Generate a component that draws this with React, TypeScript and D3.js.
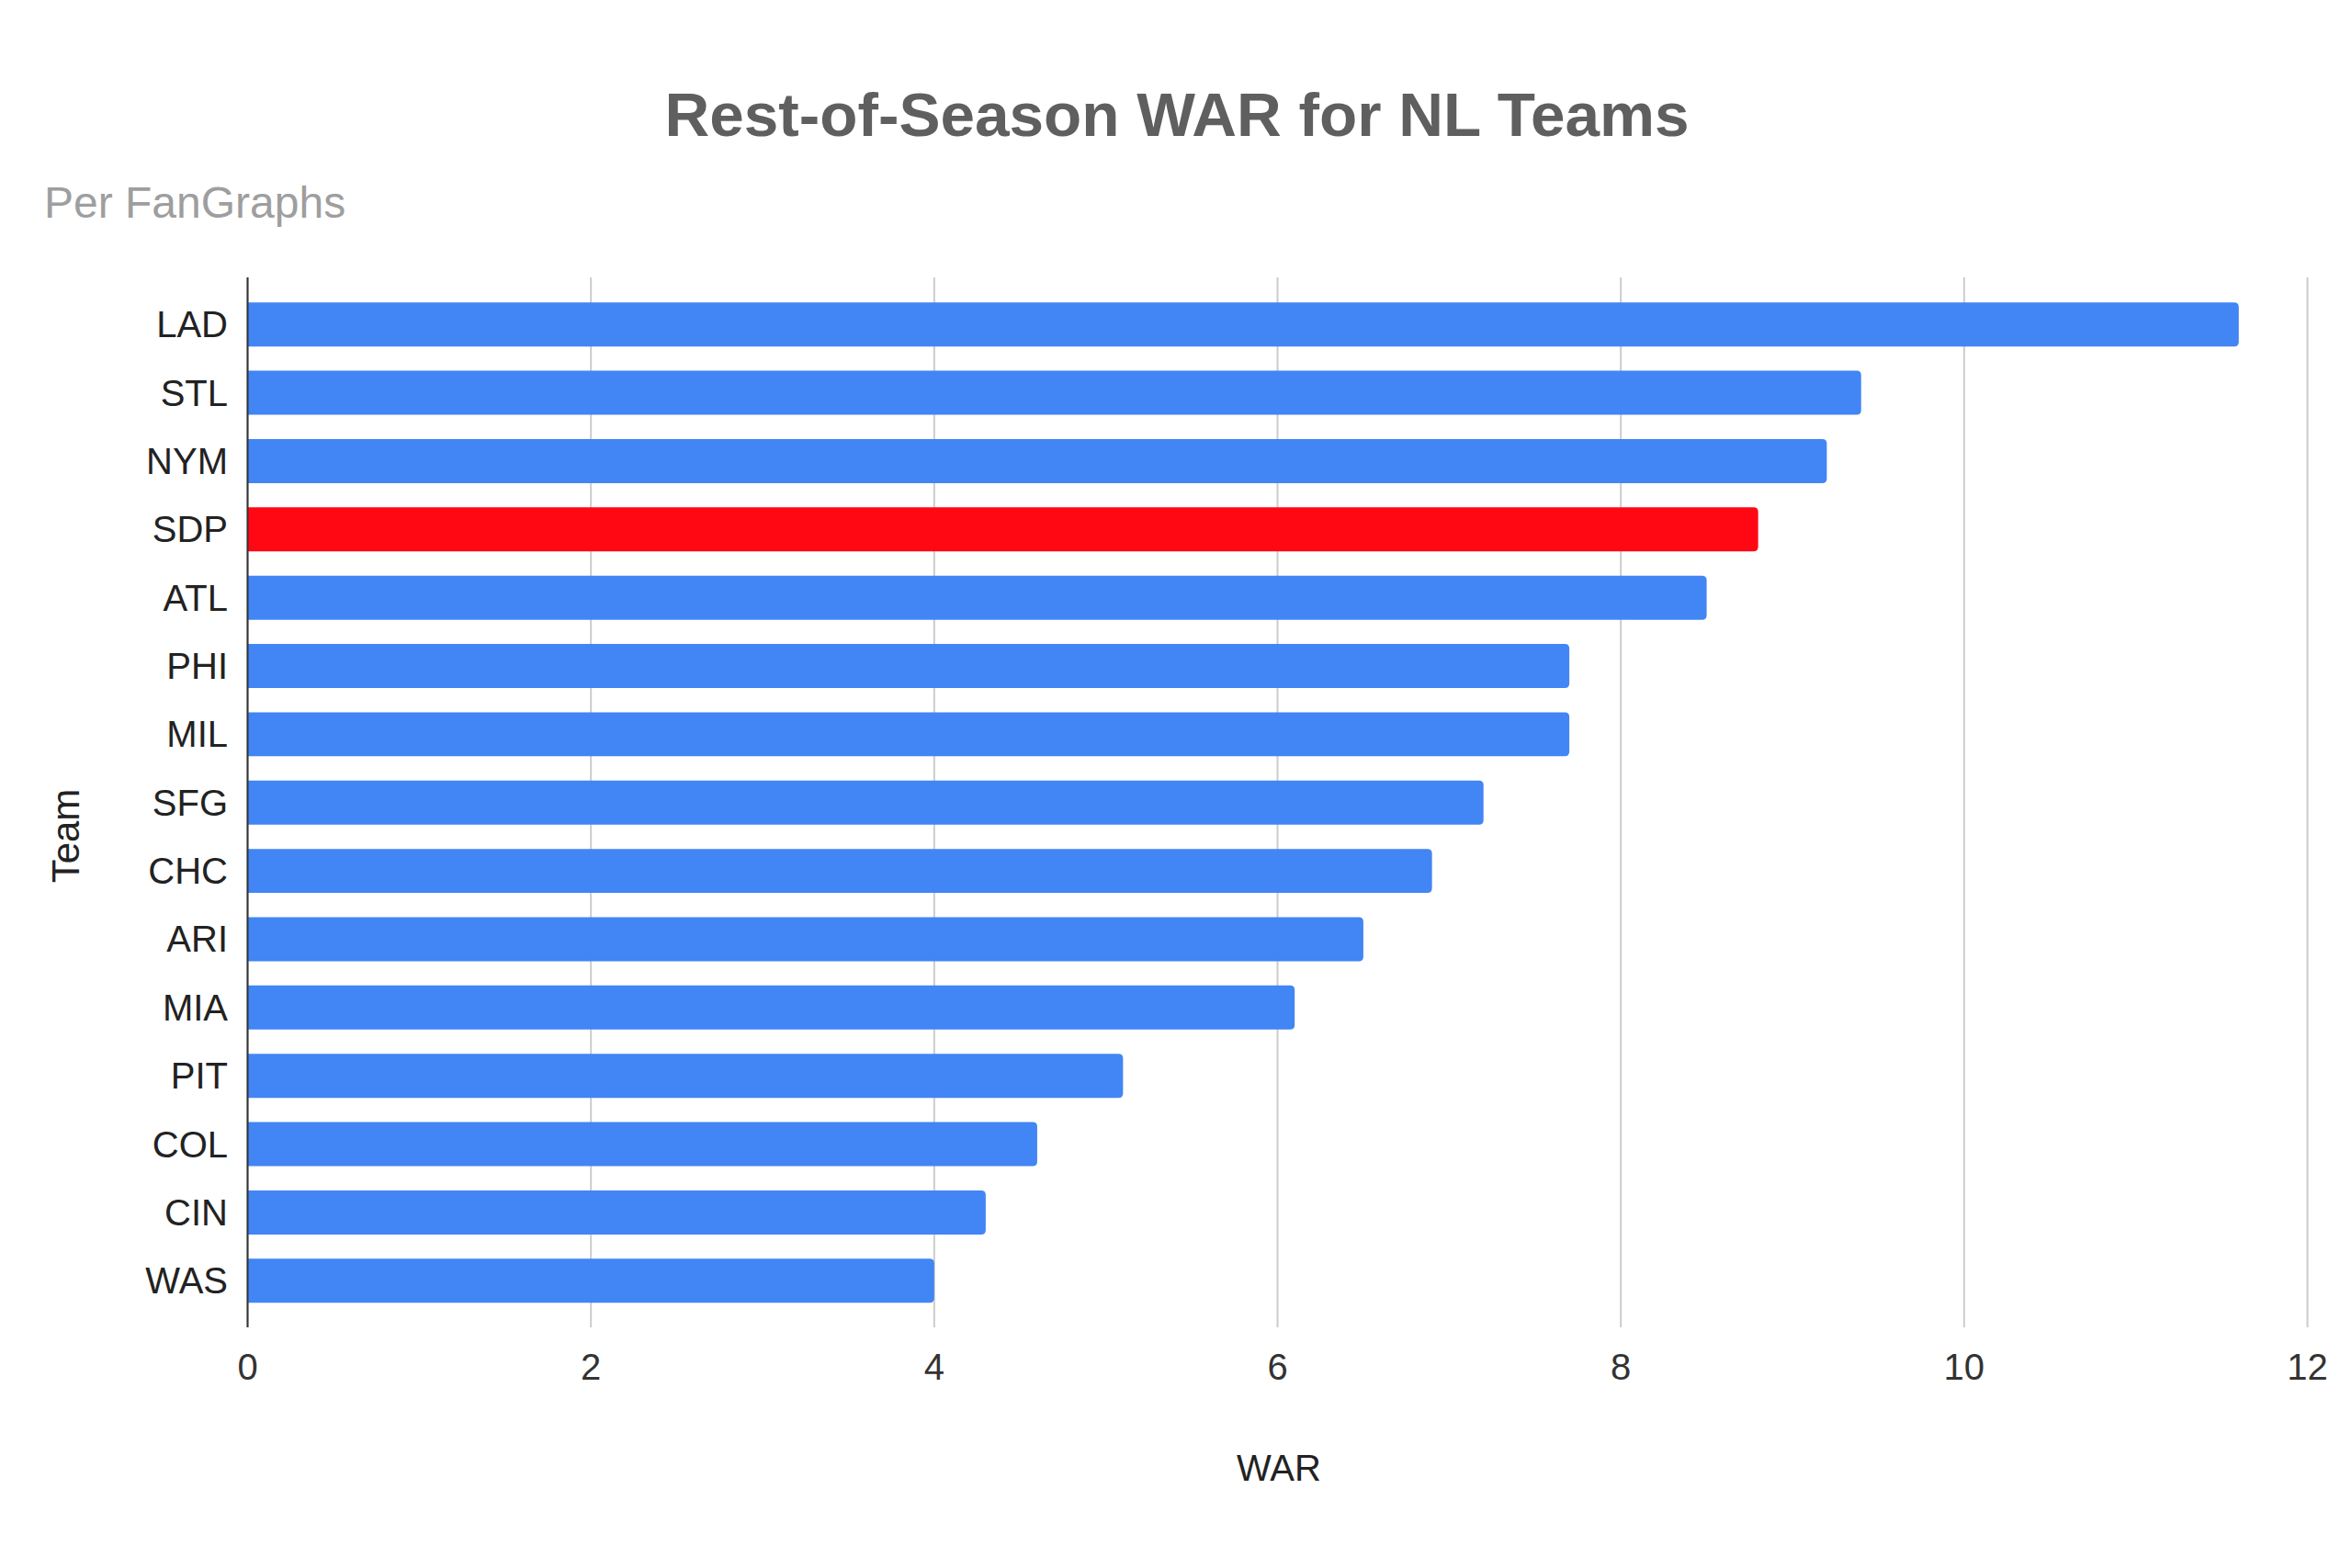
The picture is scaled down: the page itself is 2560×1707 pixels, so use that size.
import React from "react";
import * as d3 from "d3";

const teams = ["LAD","STL","NYM","SDP","ATL","PHI","MIL","SFG","CHC","ARI","MIA","PIT","COL","CIN","WAS"];
const war = [11.6, 9.4, 9.2, 8.8, 8.5, 7.7, 7.7, 7.2, 6.9, 6.5, 6.1, 5.1, 4.6, 4.3, 4.0];
const highlight = ["SDP"];
const xTicks = [0, 2, 4, 6, 8, 10, 12];

const title = "Rest-of-Season WAR for NL Teams";
const subtitle = "Per FanGraphs";
const xTitle = "WAR";
const yTitle = "Team";

const W = 2560;
const H = 1707;
const FONT = "'Liberation Sans', Arial, sans-serif";

export default function App() {
  const x = d3.scaleLinear().domain([0, 12]).range([269.5, 2511.5]);
  const y = d3.scaleBand<string>().domain(teams).range([316, 1431.5]).paddingInner(0.355).paddingOuter(0.1775);
  const gridTop = 302;
  const gridBottom = 1445;

  return (
    <svg width={W} height={H} style={{ position: "absolute", left: 0, top: 0, display: "block", background: "#fff" }} xmlns="http://www.w3.org/2000/svg">
      <rect x={0} y={0} width={W} height={H} fill="#fff" />
      <text x={1281} y={148} textAnchor="middle" fontFamily={FONT} fontWeight="bold" fontSize={67.5} fill="#5f5f5f">{title}</text>
      <text x={48} y={237} textAnchor="start" fontFamily={FONT} fontSize={48} fill="#9e9e9e">{subtitle}</text>

      {xTicks.map((t) => (
        <line key={"g" + t} x1={x(t)} x2={x(t)} y1={gridTop} y2={gridBottom} stroke="#cccccc" strokeWidth={2} />
      ))}

      {teams.map((t, i) => {
        const w = x(war[i]) - x(0);
        const r = 5;
        const y0 = y(t)!;
        const h = y.bandwidth();
        const x0 = x(0);
        const path = `M${x0},${y0} H${x0 + w - r} Q${x0 + w},${y0} ${x0 + w},${y0 + r} V${y0 + h - r} Q${x0 + w},${y0 + h} ${x0 + w - r},${y0 + h} H${x0} Z`;
        return (
          <path key={"b" + t} d={path} fill={highlight.includes(t) ? "#ff0814" : "#4285f4"} />
        );
      })}

      <line x1={x(0)} x2={x(0)} y1={gridTop} y2={gridBottom} stroke="#333" strokeWidth={2} />

      {teams.map((t) => (
        <text key={"l" + t} x={248} y={y(t)! + y.bandwidth() / 2} dy="0.35em" textAnchor="end" fontFamily={FONT} fontSize={40} fill="#222">{t}</text>
      ))}

      {xTicks.map((t) => (
        <text key={"t" + t} x={x(t)} y={1502} textAnchor="middle" fontFamily={FONT} fontSize={40} fill="#333">{t}</text>
      ))}

      <text x={1392} y={1612} textAnchor="middle" fontFamily={FONT} fontSize={40} fill="#222">{xTitle}</text>
      <text transform={`translate(86,910) rotate(-90)`} textAnchor="middle" fontFamily={FONT} fontSize={42} fill="#222">{yTitle}</text>
    </svg>
  );
}
